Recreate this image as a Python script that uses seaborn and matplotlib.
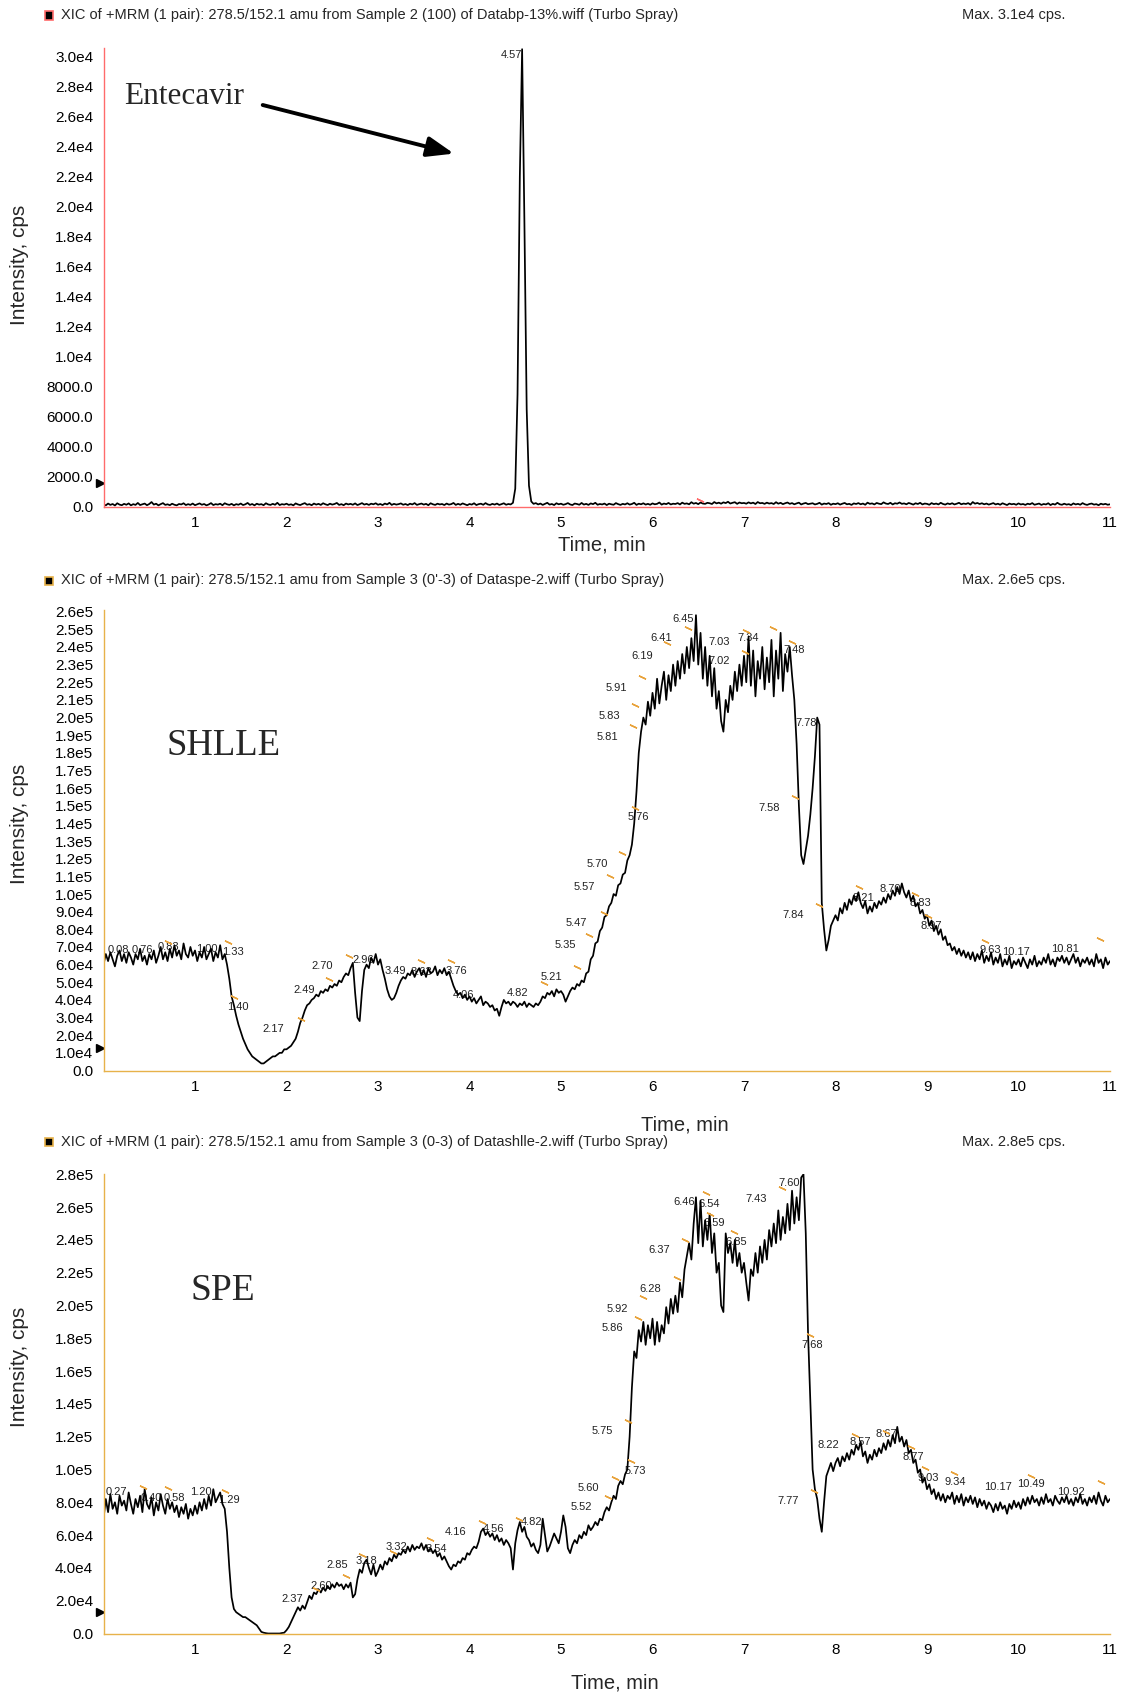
import numpy as np
import pandas as pd
import matplotlib
matplotlib.use("Agg")
import matplotlib.pyplot as plt
import seaborn as sns
from matplotlib.ticker import MultipleLocator, FuncFormatter
from matplotlib.patches import Rectangle
import matplotlib.transforms as mtransforms

sns.set_style("white")
plt.rcParams["font.family"] = ["Liberation Sans", "DejaVu Sans"]

# ---------------- data ----------------
# Panel 1: Entecavir standard, intensity in cps, sampled every 0.025 min from 0 to 11 min
entecavir_cps = [
    150, 90, 210, 120, 180, 80, 230, 140, 100, 190,
    130, 220, 90, 170, 120, 250, 110, 160, 210, 100,
    180, 310, 140, 200, 90, 170, 240, 120, 160, 100,
    200, 130, 90, 180, 150, 230, 110, 170, 120, 210,
    100, 160, 220, 130, 180, 90, 150, 240, 110, 170,
    140, 200, 100, 230, 160, 120, 190, 90, 170, 130,
    210, 110, 160, 250, 120, 180, 90, 200, 140, 170,
    100, 230, 150, 120, 190, 130, 260, 110, 170, 140,
    200, 120, 160, 90, 220, 150, 110, 180, 240, 130,
    170, 100, 210, 140, 190, 120, 230, 160, 110, 200,
    140, 180, 250, 120, 170, 100, 210, 150, 190, 130,
    220, 110, 170, 240, 140, 190, 120, 200, 160, 230,
    130, 180, 110, 210, 150, 260, 120, 190, 140, 170,
    220, 130, 180, 110, 200, 150, 240, 120, 170, 210,
    140, 190, 100, 230, 160, 120, 200, 150, 180, 110,
    210, 140, 170, 250, 120, 190, 130, 220, 160, 100,
    180, 140, 230, 110, 170, 200, 130, 240, 150, 120,
    190, 140, 210, 120, 170, 230, 130, 180, 150, 260,
    1200, 7500, 22000, 30500, 19000, 6500, 1400, 350, 190, 240,
    150, 210, 120, 190, 260, 140, 180, 110, 230, 160,
    200, 130, 170, 240, 150, 110, 210, 180, 130, 250,
    140, 190, 120, 220, 170, 260, 130, 180, 150, 210,
    110, 200, 160, 130, 240, 170, 120, 190, 150, 230,
    140, 180, 260, 120, 200, 160, 230, 140, 190, 130,
    220, 160, 190, 280, 140, 210, 170, 250, 150, 200,
    180, 240, 150, 270, 190, 220, 160, 300, 200, 250,
    170, 280, 210, 190, 260, 230, 180, 310, 220, 270,
    200, 290, 240, 330, 210, 260, 300, 190, 280, 230,
    250, 200, 290, 220, 270, 180, 310, 230, 250, 190,
    270, 210, 240, 180, 300, 200, 260, 170, 230, 280,
    190, 240, 160, 220, 270, 150, 210, 250, 170, 200,
    230, 150, 190, 260, 140, 210, 180, 240, 130, 200,
    170, 230, 140, 200, 250, 160, 190, 120, 220, 180,
    240, 160, 210, 130, 270, 190, 220, 150, 250, 200,
    170, 290, 210, 180, 260, 150, 230, 200, 280, 190,
    220, 160, 250, 200, 140, 230, 180, 260, 150, 210,
    190, 130, 240, 170, 210, 150, 260, 180, 140, 220,
    170, 230, 150, 200, 260, 160, 210, 180, 240, 140,
    310, 200, 250, 180, 230, 160, 210, 140, 190, 240,
    150, 200, 130, 230, 170, 110, 210, 160, 190, 130,
    220, 150, 180, 120, 200, 160, 240, 130, 170, 210,
    120, 180, 150, 230, 110, 190, 140, 260, 160, 130,
    200, 140, 170, 110, 220, 150, 190, 130, 240, 160,
    120, 180, 210, 140, 170, 100, 200, 150, 190, 130,
    160,
]

# Panel 2: SHLLE extract, intensity in thousands of cps, every 0.025 min
shlle_kcps = [
    60, 66, 62, 67, 63, 59, 65, 68, 62, 66,
    61, 67, 64, 60, 66, 63, 69, 62, 65, 60,
    66, 63, 68, 61, 65, 70, 63, 67, 62, 69,
    64, 71, 65, 68, 63, 72, 66, 64, 70, 65,
    68, 62, 67, 64, 70, 63, 66, 69, 62, 67,
    64, 71, 63, 66, 60, 52, 42, 37, 31, 26,
    22, 18, 15, 12, 10, 8, 7, 6, 5, 4,
    4, 5, 6, 7, 8, 8, 9, 10, 10, 12,
    12, 13, 14, 16, 18, 22, 27, 30, 34, 37,
    38, 40, 41, 43, 42, 45, 44, 46, 45, 48,
    47, 49, 48, 51, 50, 53, 55, 54, 58, 61,
    44, 30, 28, 45, 57, 60, 58, 64, 61, 66,
    60, 63, 57, 52, 46, 42, 40, 41, 44, 48,
    51, 53, 52, 55, 54, 57, 53, 56, 58, 54,
    57, 53, 58, 55, 56, 59, 54, 57, 55, 58,
    54, 56, 52, 48, 45, 43, 44, 41, 43, 40,
    42, 39, 41, 38, 40, 42, 37, 39, 38, 36,
    37, 34, 35, 31, 36, 40, 38, 39, 37, 39,
    38, 36, 38, 37, 39, 36, 38, 37, 36, 38,
    37, 39, 42, 41, 44, 43, 45, 42, 46, 44,
    45, 43, 39, 42, 45, 47, 46, 49, 48, 51,
    50, 55, 56, 63, 65, 72, 73, 79, 81, 87,
    88, 93, 95, 100, 99, 105, 106, 111, 112, 119,
    122, 128, 140, 158, 180, 192, 200, 196, 209, 201,
    214, 205, 222, 208, 218, 226, 210, 224, 215, 230,
    218, 232, 222, 236, 225, 240, 228, 245, 232, 258,
    230, 248, 222, 240, 218, 235, 212, 228, 205, 215,
    198, 192, 210, 203, 218, 210, 226, 215, 230, 218,
    235, 220, 246, 218, 238, 212, 232, 222, 240, 216,
    234, 220, 244, 212, 238, 222, 248, 215, 236, 226,
    240, 224, 210, 185, 150, 122, 117, 125, 133, 145,
    160, 178, 200, 196, 95, 80, 68, 74, 82, 85,
    88, 85, 92, 89, 95, 91, 97, 94, 99, 96,
    101, 95, 92, 96, 89, 93, 90, 95, 92, 96,
    94, 98, 95, 100, 97, 102, 99, 104, 100, 106,
    101, 98, 102, 96, 99, 93, 95, 89, 91, 86,
    88, 82, 85, 79, 82, 77, 80, 74, 76, 71,
    72, 68, 70, 66, 69, 65, 68, 64, 67, 63,
    67, 62, 66, 63, 68, 61, 65, 62, 67, 60,
    64, 61, 66, 59, 63, 60, 65, 58, 62, 60,
    63, 59, 64, 61, 58, 63, 60, 65, 59, 62,
    60, 64, 61, 66, 60, 63, 59, 64, 62, 65,
    61, 64, 60, 63, 66, 61, 64, 59, 63, 61,
    64, 60, 63, 59, 66, 61, 63, 58, 64, 60,
    62,
]

# Panel 3: SPE extract, intensity in thousands of cps, every 0.025 min
spe_kcps = [
    70, 82, 74, 85, 76, 80, 73, 84, 78, 81,
    75, 86, 79, 73, 82, 77, 84, 74, 88, 79,
    76, 83, 72, 80, 75, 85, 78, 73, 82, 76,
    80, 74, 78, 71, 77, 73, 79, 70, 76, 72,
    78, 73, 80, 75, 82, 76, 84, 78, 88, 80,
    83, 86, 79, 76, 62, 40, 22, 15, 13, 12,
    11, 10, 10, 9, 8, 7, 6, 5, 3, 1,
    0.5, 0.2, 0, 0, 0, 0, 0, 0, 0.3, 0.5,
    2, 4, 7, 10, 13, 16, 14, 17, 15, 19,
    23, 21, 25, 24, 27, 25, 28, 26, 29, 27,
    30, 28, 31, 29, 30, 27, 30, 28, 31, 22,
    24, 33, 39, 37, 43, 45, 40, 36, 42, 35,
    38, 42, 39, 44, 42, 46, 44, 48, 46, 49,
    48, 51, 49, 53, 50, 54, 51, 53, 52, 55,
    51, 54, 50, 52, 49, 51, 47, 49, 45, 47,
    44, 41, 39, 42, 41, 44, 43, 46, 45, 49,
    48, 51, 53, 52, 56, 62, 64, 60, 62, 59,
    61, 57, 60, 56, 58, 54, 57, 55, 52, 39,
    55, 63, 68, 62, 65, 59, 57, 53, 55, 51,
    49, 54, 70, 60, 50, 53, 57, 61, 58, 55,
    62, 72, 65, 52, 49, 54, 57, 55, 60, 58,
    62, 60, 66, 63, 65, 68, 66, 70, 69, 74,
    77, 75, 80, 84, 82, 90, 93, 91, 97, 100,
    120, 150, 172, 168, 185, 178, 190, 176, 188, 180,
    192, 176, 190, 178, 188, 183, 199, 189, 204, 195,
    206, 196, 214, 205, 222, 230, 238, 228, 250, 266,
    238, 264, 236, 252, 240, 256, 232, 244, 220, 226,
    200, 196, 244, 232, 238, 226, 240, 224, 232, 220,
    226, 214, 203, 222, 218, 232, 220, 236, 226, 240,
    228, 246, 236, 250, 238, 258, 240, 254, 244, 262,
    246, 270, 250, 266, 252, 278, 280, 244, 183, 142,
    100, 88, 82, 70, 62, 80, 96, 100, 104, 99,
    104, 107, 102, 108, 105, 110, 106, 112, 109, 115,
    112, 117, 108, 111, 104, 109, 106, 112, 108, 113,
    110, 116, 112, 118, 114, 121, 116, 126, 117, 120,
    114, 118, 110, 112, 104, 106, 98, 100, 92, 95,
    88, 91, 85, 88, 82, 86, 81, 85, 80, 84,
    82, 86, 79, 84, 80, 85, 78, 83, 80, 84,
    79, 83, 77, 82, 78, 81, 76, 80, 78, 74,
    79, 75, 80, 76, 78, 73, 79, 76, 81, 77,
    80, 76, 82, 78, 83, 79, 84, 80, 82, 78,
    83, 79, 85, 80, 82, 78, 84, 81, 79, 83,
    80, 84, 79, 82, 78, 83, 80, 85, 79, 82,
    78, 83, 80, 84, 79, 86, 81, 78, 84, 80,
    82,
]

# Retention-time labels: text, time (min), intensity (cps)
entecavir_labels = [("4.57", 4.46, 30100)]
entecavir_ticks_t = [6.52]
entecavir_ticks_v = [450]

shlle_labels = [
    ("0.08", 0.16, 6.8e4), ("0.76", 0.42, 6.8e4), ("0.83", 0.71, 7.0e4),
    ("1.00", 1.13, 6.9e4), ("1.33", 1.42, 6.7e4), ("1.40", 1.47, 3.6e4),
    ("2.17", 1.86, 2.35e4), ("2.49", 2.19, 4.56e4), ("2.70", 2.39, 5.9e4),
    ("2.96", 2.84, 6.26e4), ("3.49", 3.19, 5.64e4), ("3.63", 3.48, 5.6e4),
    ("3.76", 3.86, 5.64e4), ("4.06", 3.93, 4.3e4), ("4.82", 4.52, 4.39e4),
    ("5.21", 4.90, 5.28e4), ("5.35", 5.05, 7.1e4), ("5.47", 5.17, 8.34e4),
    ("5.57", 5.25, 10.4e4), ("5.70", 5.40, 11.7e4), ("5.76", 5.84, 14.35e4),
    ("5.81", 5.51, 18.9e4), ("5.83", 5.53, 20.1e4), ("5.91", 5.60, 21.7e4),
    ("6.19", 5.89, 23.5e4), ("6.41", 6.10, 24.5e4), ("6.45", 6.34, 25.6e4),
    ("7.03", 6.73, 24.3e4), ("7.02", 6.73, 23.2e4), ("7.34", 7.04, 24.5e4),
    ("7.48", 7.55, 23.8e4), ("7.78", 7.68, 19.7e4), ("7.58", 7.28, 14.9e4),
    ("7.84", 7.54, 8.81e4), ("8.21", 8.30, 9.76e4), ("8.70", 8.60, 10.3e4),
    ("8.83", 8.93, 9.5e4), ("8.97", 9.05, 8.19e4), ("9.63", 9.69, 6.83e4),
    ("10.17", 9.97, 6.73e4), ("10.81", 10.51, 6.87e4),
]
shlle_ticks_t = [0.71, 1.36, 1.43, 2.16, 2.46, 2.68, 3.47, 3.80, 4.81, 5.18,
                 5.31, 5.47, 5.54, 5.67, 5.81, 5.79, 5.81, 5.89, 6.16, 6.39,
                 7.01, 7.02, 7.32, 7.52, 7.56, 7.82, 8.26, 8.87, 9.01, 9.63, 10.89]
shlle_ticks_v = [7.27e4, 7.27e4, 4.15e4, 2.9e4, 5.17e4, 6.5e4, 6.2e4, 6.2e4, 4.94e4, 5.88e4,
                 7.68e4, 8.94e4, 11.0e4, 12.3e4, 14.9e4, 19.5e4, 20.7e4, 22.3e4, 24.2e4, 25.1e4,
                 23.7e4, 24.9e4, 25.1e4, 24.3e4, 15.5e4, 9.38e4, 10.4e4, 10.0e4, 8.76e4, 7.36e4, 7.44e4]

spe_labels = [
    ("0.27", 0.14, 8.61e4), ("0.40", 0.52, 8.28e4), ("0.58", 0.77, 8.28e4),
    ("1.20", 1.07, 8.61e4), ("1.29", 1.37, 8.14e4), ("2.37", 2.06, 2.08e4),
    ("2.60", 2.38, 2.92e4), ("2.85", 2.55, 4.18e4), ("3.18", 2.87, 4.42e4),
    ("3.32", 3.20, 5.3e4), ("3.54", 3.64, 5.15e4), ("4.16", 3.85, 6.2e4),
    ("4.56", 4.26, 6.35e4), ("4.82", 4.68, 6.82e4), ("5.52", 5.22, 7.7e4),
    ("5.60", 5.30, 8.85e4), ("5.73", 5.81, 9.9e4), ("5.75", 5.45, 12.35e4),
    ("5.86", 5.56, 18.6e4), ("5.92", 5.62, 19.8e4), ("6.28", 5.98, 21.0e4),
    ("6.37", 6.07, 23.4e4), ("6.46", 6.35, 26.3e4), ("6.54", 6.62, 26.2e4),
    ("6.59", 6.67, 25.0e4), ("6.85", 6.92, 23.85e4), ("7.43", 7.13, 26.5e4),
    ("7.60", 7.49, 27.45e4), ("7.68", 7.75, 17.6e4), ("7.77", 7.48, 8.08e4),
    ("8.22", 7.92, 11.5e4), ("8.57", 8.27, 11.66e4), ("8.67", 8.55, 12.15e4),
    ("8.77", 8.85, 10.78e4), ("9.03", 9.01, 9.46e4), ("9.34", 9.31, 9.22e4),
    ("10.17", 9.78, 8.91e4), ("10.49", 10.14, 9.1e4), ("10.92", 10.57, 8.65e4),
]
spe_ticks_t = [0.43, 0.71, 1.33, 2.32, 2.65, 2.82, 3.16, 3.57, 4.14, 4.54,
               5.51, 5.59, 5.76, 5.73, 5.84, 5.90, 6.27, 6.35, 6.59, 6.63,
               6.89, 7.41, 7.72, 7.76, 8.21, 8.55, 8.82, 8.98, 9.29, 10.14, 10.9]
spe_ticks_v = [8.91e4, 8.85e4, 8.69e4, 2.71e4, 3.52e4, 4.79e4, 4.99e4, 5.74e4, 6.78e4, 6.96e4,
               8.3e4, 9.5e4, 10.54e4, 12.96e4, 19.26e4, 20.5e4, 21.66e4, 24.0e4, 26.84e4, 25.56e4,
               24.5e4, 27.15e4, 18.2e4, 8.71e4, 12.1e4, 12.3e4, 11.4e4, 10.07e4, 9.8e4, 9.6e4, 9.26e4]

threshold_levels = [1560, 12600, 13300]

titles = [
    "XIC of +MRM (1 pair): 278.5/152.1 amu from Sample 2 (100) of Databp-13%.wiff (Turbo Spray)",
    "XIC of +MRM (1 pair): 278.5/152.1 amu from Sample 3 (0'-3) of Dataspe-2.wiff (Turbo Spray)",
    "XIC of +MRM (1 pair): 278.5/152.1 amu from Sample 3 (0-3) of Datashlle-2.wiff (Turbo Spray)",
]
max_texts = ["Max. 3.1e4 cps.", "Max. 2.6e5 cps.", "Max. 2.8e5 cps."]
panel_names = ["Entecavir", "SHLLE", "SPE"]

# ---------------- figure ----------------
W, H = 1123, 1696
fig = plt.figure(figsize=(W / 100, H / 100), dpi=100)

RED = "#ff6b6b"
GOLD = "#e7b24a"
TICKC = "#e8a23a"


def add_axes_px(left, right, top, bottom):
    return fig.add_axes([left / W, 1 - bottom / H, (right - left) / W, (bottom - top) / H])


def sci_fmt(v, pos):
    if abs(v) < 1e-9:
        return "0.0"
    if v < 1e4:
        return f"{v:.1f}"
    e = int(np.floor(np.log10(v) + 1e-9))
    return f"{v / 10 ** e:.1f}e{e}"


panels = [
    dict(top=47.7, bottom=506.7, ymax=30600, major=2000, minor=1000, color=RED,
         values=np.array(entecavir_cps, float), labels=entecavir_labels,
         tt=entecavir_ticks_t, tv=entecavir_ticks_v, tcol=RED,
         title_y=15, xlab=(0.495, -0.083), ylab_y=0.527),
    dict(top=609.9, bottom=1070.5, ymax=261000, major=10000, minor=5000, color=GOLD,
         values=np.array(shlle_kcps, float) * 1000, labels=shlle_labels,
         tt=shlle_ticks_t, tv=shlle_ticks_v, tcol=TICKC,
         title_y=580, xlab=(0.578, -0.118), ylab_y=0.535),
    dict(top=1174.3, bottom=1633.5, ymax=280000, major=20000, minor=10000, color=GOLD,
         values=np.array(spe_kcps, float) * 1000, labels=spe_labels,
         tt=spe_ticks_t, tv=spe_ticks_v, tcol=TICKC,
         title_y=1141.7, xlab=(0.508, -0.108), ylab_y=0.58),
]

axes = []
for i, p in enumerate(panels):
    ax = add_axes_px(103.5, 1110, p["top"], p["bottom"])
    axes.append(ax)
    vals = p["values"]
    time = np.linspace(0, 11, len(vals))
    df = pd.DataFrame({"Time, min": time, "Intensity, cps": vals})
    sns.lineplot(data=df, x="Time, min", y="Intensity, cps", ax=ax, color="black",
                 linewidth=1.25, estimator=None, sort=False, legend=False)
    ax.set_xlim(0, 11)
    ax.set_ylim(0, p["ymax"])
    for s in ["top", "right"]:
        ax.spines[s].set_visible(False)
    for s in ["left", "bottom"]:
        ax.spines[s].set_color(p["color"])
        ax.spines[s].set_linewidth(1.0)
    ax.xaxis.set_major_locator(MultipleLocator(1))
    ax.xaxis.set_minor_locator(MultipleLocator(0.5))
    ax.xaxis.set_major_formatter(FuncFormatter(lambda v, pos: "" if v < 0.5 else f"{int(round(v))}"))
    ax.yaxis.set_major_locator(MultipleLocator(p["major"]))
    ax.yaxis.set_minor_locator(MultipleLocator(p["minor"]))
    ax.yaxis.set_major_formatter(FuncFormatter(sci_fmt))
    ax.tick_params(axis="both", which="major", direction="out", length=3.5, width=1,
                   color=p["color"], labelsize=11, pad=3, labelcolor="black")
    ax.tick_params(axis="both", which="minor", direction="out", length=2.2, width=1,
                   color=p["color"])
    ax.tick_params(axis="y", which="major", pad=4)
    ax.set_xlabel("Time, min", fontsize=14.5)
    ax.xaxis.set_label_coords(*p["xlab"])
    ax.xaxis.label.set_va("center")
    ax.set_ylabel("Intensity, cps", fontsize=15)
    ax.yaxis.set_label_coords(-0.0835, p["ylab_y"])
    ax.yaxis.label.set_va("center")

    # retention time labels
    for txt, t, v in p["labels"]:
        ax.text(t, v, txt, fontsize=8, color="#222222", ha="center", va="center", zorder=1)
    ax.plot(p["tt"], p["tv"], linestyle="none", marker=(2, 2, 65), markersize=5.5,
            markeredgewidth=1.0, color=p["tcol"], zorder=3)

    # threshold triangle on the y-axis
    trans = mtransforms.blended_transform_factory(ax.transAxes, ax.transData)
    ax.plot([-0.0035], [threshold_levels[i]], marker=">", markersize=5.5, color="black",
            transform=trans, clip_on=False, linestyle="none")

    # title line
    fig.text(61 / W, 1 - p["title_y"] / H, titles[i], fontsize=10.5, ha="left", va="center")
    fig.text(1065 / W, 1 - p["title_y"] / H, max_texts[i], fontsize=10.5, ha="right", va="center")
    fig.add_artist(Rectangle(((49 - 4) / W, 1 - (p["title_y"] + 4.5) / H), 8 / W, 8 / H,
                             transform=fig.transFigure, facecolor="black",
                             edgecolor=p["color"], linewidth=1.2))

serif = ["Liberation Serif", "DejaVu Serif"]
axes[0].text(0.23, 26850, panel_names[0], fontsize=22.5, family=serif, ha="left", va="baseline")
axes[0].annotate("", xy=(3.83, 23540), xytext=(1.74, 26780),
                 arrowprops=dict(arrowstyle="-|>,head_length=0.45,head_width=0.17",
                                 mutation_scale=36, lw=2.8, color="black",
                                 shrinkA=0, shrinkB=0))
axes[1].text(0.69, 17.88e4, panel_names[1], fontsize=26.5, family=serif, ha="left", va="baseline")
axes[2].text(0.956, 20.34e4, panel_names[2], fontsize=27, family=serif, ha="left", va="baseline")

fig.savefig("out.png", dpi=100)
